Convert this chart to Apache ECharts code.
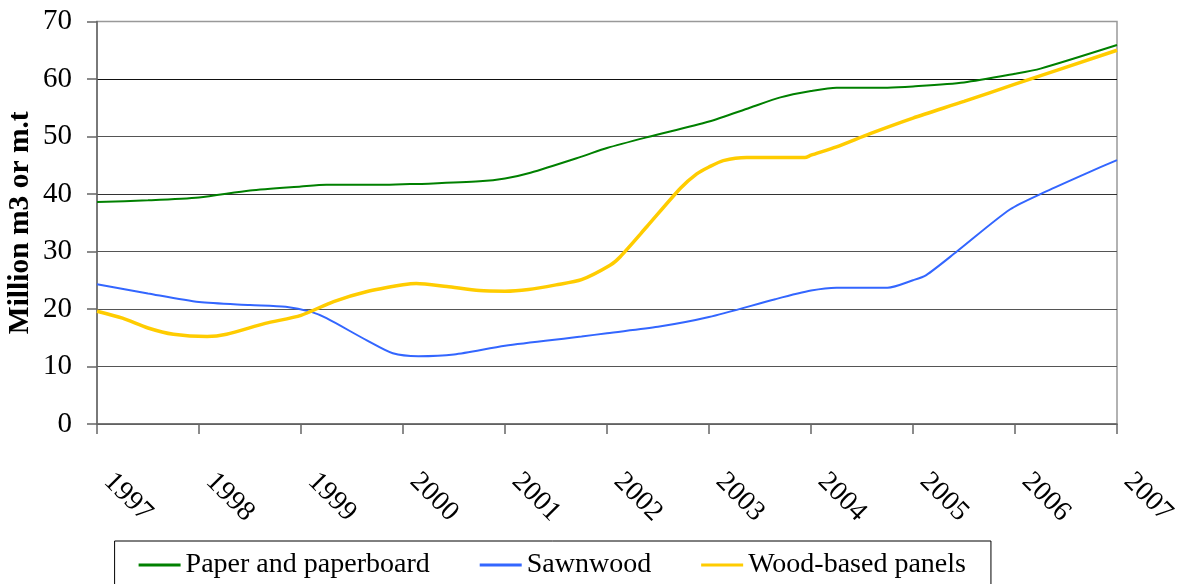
<!DOCTYPE html>
<html>
<head>
<meta charset="utf-8">
<script src="https://cdn.jsdelivr.net/npm/echarts@6/dist/echarts.min.js"></script>
<style>html,body{margin:0;padding:0;background:#fff;}#c{width:1177px;height:584px;}</style>
</head>
<body>
<div id="c"></div>
<script>
const yearLabels = ['1997','1998','1999','2000','2001','2002','2003','2004','2005','2006','2007'];
const seriesNames = ['Paper and paperboard','Sawnwood','Wood-based panels'];

const paperYears  = [1997.0,1997.5,1998.0,1998.5,1999.0,1999.25,1999.75,2000.0,2000.25,2000.75,2001.0,2001.25,2001.75,2002.0,2002.4,2003.0,2003.4,2003.7,2004.0,2004.25,2004.75,2005.0,2005.5,2006.0,2006.25,2007.0];
const paperValues = [38.6,38.9,39.4,40.6,41.3,41.6,41.6,41.7,41.8,42.2,42.7,43.7,46.5,48.0,49.9,52.6,55.0,56.8,57.9,58.5,58.5,58.7,59.4,60.9,61.8,65.9];

const sawnYears  = [1997.0,1997.5,1998.0,1998.5,1998.85,1999.1,1999.25,1999.65,1999.9,2000.15,2000.5,2001.0,2001.75,2002.0,2002.5,2003.0,2003.65,2004.0,2004.25,2004.75,2005.0,2005.13,2005.43,2005.95,2006.3,2006.7,2007.0];
const sawnValues = [24.3,22.7,21.2,20.7,20.4,19.5,18.4,14.5,12.3,11.8,12.1,13.6,15.2,15.8,16.9,18.6,21.7,23.2,23.7,23.7,25.0,25.9,30.0,37.3,40.4,43.6,45.9];

const panelYears  = [1997.0,1997.25,1997.5,1997.75,1998.08,1998.27,1998.65,1999.0,1999.32,1999.64,2000.0,2000.13,2000.43,2000.75,2001.0,2001.23,2001.5,2001.75,2002.03,2002.13,2002.39,2002.72,2002.88,2003.0,2003.14,2003.37,2003.94,2004.0,2004.25,2004.58,2005.0,2005.5,2006.0,2007.0];
const panelValues = [19.6,18.4,16.7,15.6,15.2,15.6,17.5,18.9,21.3,23.0,24.2,24.45,23.9,23.2,23.1,23.4,24.2,25.1,27.6,29.1,34.3,41.0,43.5,44.7,45.8,46.35,46.35,46.75,48.2,50.5,53.2,56.1,59.1,65.0];

const zip = (xs, ys) => xs.map((x, i) => [x, ys[i]]);
const font = '"Liberation Serif","Times New Roman",serif';

const chart = echarts.init(document.getElementById('c'));
chart.setOption({
  animation: false,
  grid: { left: 97, right: 60, top: 21.5, bottom: 160, containLabel: false, outerBoundsMode: 'none',
          show: true, borderColor: '#999', borderWidth: 1.5, backgroundColor: 'transparent' },
  xAxis: {
    type: 'value', min: 1997, max: 2007, interval: 1,
    axisLine: { lineStyle: { color: '#666', width: 1.5 } },
    axisTick: { show: true, length: 10, lineStyle: { color: '#666', width: 1.5 } },
    splitLine: { show: false },
    axisLabel: {
      rotate: -45, margin: 42, padding: [0, 0, 0, 16], color: '#000', fontFamily: font, fontSize: 28,
      formatter: v => yearLabels[Math.round(v - 1997)]
    }
  },
  yAxis: {
    type: 'value', min: 0, max: 70, interval: 10,
    name: 'Million m3 or m.t', nameLocation: 'middle', nameGap: 62, nameRotate: 90, nameMoveOverlap: false,
    nameTextStyle: { color: '#000', fontFamily: font, fontSize: 29.5, fontWeight: 'bold' },
    axisLine: { show: true, lineStyle: { color: '#666', width: 1.5 } },
    axisTick: { show: true, length: 10, lineStyle: { color: '#666', width: 1.5 } },
    axisLabel: { margin: 25, color: '#000', fontFamily: font, fontSize: 29 },
    splitLine: { show: true, lineStyle: { color: ['#555','#555','#555','#555','#333','#555','#111','#999'], width: 1 } }
  },
  legend: {
    left: 114.6, top: 541, orient: 'horizontal',
    padding: [10, 25, 20, 24], itemGap: 50, itemWidth: 42, itemHeight: 3,
    borderColor: '#000', borderWidth: 1,
    icon: 'rect',
    textStyle: { color: '#000', fontFamily: font, fontSize: 28 },
    data: seriesNames
  },
  series: [
    { name: seriesNames[0], type: 'line', data: zip(paperYears, paperValues), showSymbol: false, smooth: 0.25,
      lineStyle: { color: '#008000', width: 2 }, itemStyle: { color: '#008000' } },
    { name: seriesNames[1], type: 'line', data: zip(sawnYears, sawnValues), showSymbol: false, smooth: 0.25,
      lineStyle: { color: '#3366FF', width: 2 }, itemStyle: { color: '#3366FF' } },
    { name: seriesNames[2], type: 'line', data: zip(panelYears, panelValues), showSymbol: false, smooth: 0.25,
      lineStyle: { color: '#FFCC00', width: 3.5 }, itemStyle: { color: '#FFCC00' } }
  ]
});
</script>
</body>
</html>
